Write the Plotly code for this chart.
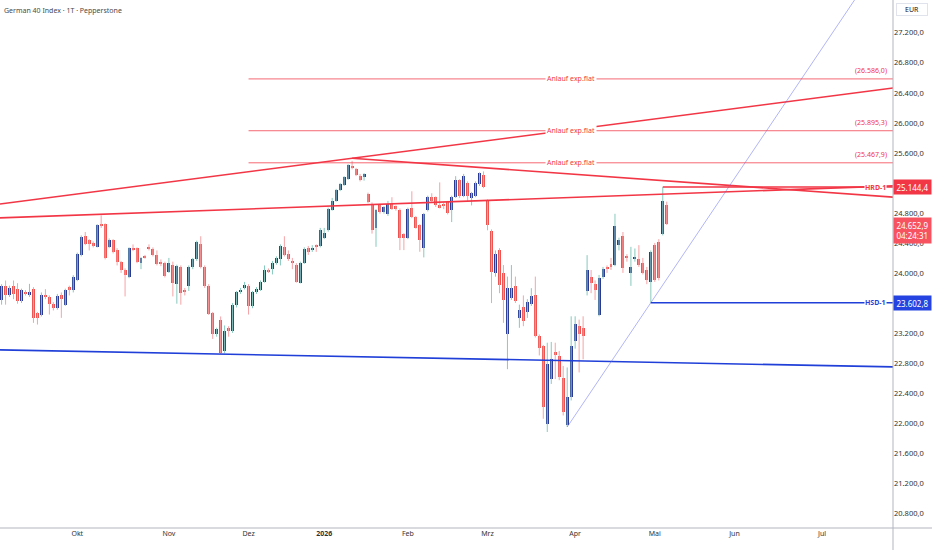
import pandas as pd
import plotly.graph_objects as go

# GER40 daily candles (Pepperstone)
first_day = "2025-09-04"
holidays = ["2025-12-24", "2025-12-25", "2025-12-26", "2025-12-31",
            "2026-01-01", "2026-04-03", "2026-04-06", "2026-05-01"]

opens = [
    23643, 23828, 23709, 23828, 23784, 23621, 23744, 23700, 23784, 23467,
    23445, 23709, 23678, 23590, 23533, 23709, 23577, 23810, 23775, 23907,
    24238, 24489, 24436, 24401, 24348, 24648, 24648, 24348, 24436, 24304,
    24150, 24040, 23951, 24339, 24326, 24128, 24225, 24348, 24313, 24238,
    24150, 24128, 24018, 24106, 23854, 24084, 23775, 23828, 24084, 24180,
    24392, 24084, 23832, 23467, 23180, 23378, 22960, 23268, 23224, 23577,
    23753, 23797, 23828, 23555, 23740, 23775, 23885, 24040, 24048, 24128,
    24180, 24348, 24251, 24163, 24106, 23872, 24136, 24326, 24304, 24361,
    24361, 24471, 24568, 24842, 24965, 25106, 25176, 25251, 25428, 25384,
    25296, 25273, 25053, 24921, 24604, 24899, 24811, 24780, 24921, 24886,
    24842, 24515, 24471, 24868, 24745, 24634, 24326, 24833, 25018, 25009,
    24899, 24921, 24943, 24833, 25018, 25235, 25030, 25200, 25000, 25030,
    25180, 25300, 24965, 24559, 23995, 24304, 23995, 23180, 23665, 23828,
    23400, 23546, 23475, 23590, 23709, 23158, 23026, 21990, 22585, 22946,
    22893, 22594, 21968, 22342, 23092, 23290, 23270, 23761, 23951, 23854,
    23444, 23942, 24083, 24118, 24105, 24370, 24489, 24224, 24004, 24193,
    24180, 24127, 24039, 23885, 24370, 24414, 24515, 24912]
highs = [
    23850, 23899, 23830, 23899, 23863, 23790, 23770, 23854, 23810, 23480,
    23740, 23784, 23700, 23610, 23720, 23740, 23790, 23830, 23970, 24270,
    24500, 24546, 24450, 24420, 24650, 24767, 24660, 24460, 24450, 24330,
    24160, 24060, 24340, 24380, 24340, 24210, 24240, 24380, 24340, 24300,
    24180, 24150, 24200, 24150, 24110, 24100, 23800, 24100, 24200, 24430,
    24489, 24100, 23850, 23480, 23270, 23420, 23300, 23290, 23600, 23760,
    23800, 23880, 23850, 23760, 23810, 23900, 24100, 24060, 24160, 24220,
    24380, 24489, 24300, 24200, 24130, 24150, 24340, 24360, 24370, 24380,
    24600, 24600, 24870, 25000, 25120, 25200, 25290, 25450, 25494, 25400,
    25320, 25330, 25070, 24940, 24850, 24920, 24890, 24960, 25009, 24900,
    24860, 24530, 24870, 25088, 24760, 24650, 24800, 25030, 25062, 25020,
    25207, 24940, 24960, 25030, 25290, 25250, 25320, 25220, 25080, 25220,
    25340, 25353, 24980, 24580, 24300, 24330, 24105, 23951, 24105, 23951,
    23577, 23700, 23650, 23797, 23951, 23180, 23040, 23070, 23080, 23070,
    22960, 22760, 22740, 23422, 23422, 23378, 23422, 24237, 24039, 23900,
    23973, 24080, 24100, 24200, 24788, 24470, 24546, 24250, 24348, 24326,
    24370, 24200, 24080, 24300, 24400, 24450, 25144.4, 24950]
lows = [
    23577, 23577, 23680, 23650, 23590, 23600, 23700, 23680, 23334, 23312,
    23420, 23650, 23445, 23500, 23510, 23401, 23560, 23700, 23740, 23890,
    24220, 24370, 24300, 24340, 24340, 24600, 24180, 24330, 24260, 24100,
    24000, 23687, 23930, 24290, 24130, 24050, 24190, 24300, 24220, 24100,
    24090, 23940, 24000, 23687, 23590, 23577, 23700, 23760, 24050, 24160,
    24060, 23800, 23440, 23120, 23150, 22920, 22930, 23150, 23200, 23540,
    23720, 23780, 23445, 23530, 23720, 23760, 23870, 24000, 23980, 24110,
    24100, 24220, 24160, 24050, 23870, 23860, 24120, 24240, 24280, 24280,
    24340, 24450, 24550, 24830, 24950, 25090, 25160, 25240, 25380, 25290,
    25220, 25230, 24930, 24524, 24348, 24790, 24790, 24760, 24840, 24830,
    24304, 24304, 24450, 24730, 24590, 24282, 24207, 24820, 24950, 24880,
    24860, 24850, 24780, 24678, 25000, 25000, 25010, 24960, 24900, 25010,
    25160, 25130, 24568, 23598, 23950, 23730, 23334, 22717, 23640, 23600,
    23268, 23290, 23400, 23560, 23140, 22900, 22056, 21880, 22520, 22585,
    22570, 22100, 21946, 22300, 22990, 22673, 22849, 23700, 23730, 23640,
    23422, 23920, 24000, 24040, 24090, 24300, 24000, 24150, 23827, 24150,
    24080, 23980, 23850, 23602.8, 23880, 23900, 24500, 24640]
closes = [
    23828, 23709, 23797, 23722, 23621, 23766, 23722, 23744, 23401, 23401,
    23709, 23678, 23590, 23533, 23696, 23656, 23766, 23766, 23951, 24251,
    24480, 24392, 24392, 24357, 24634, 24621, 24194, 24445, 24282, 24150,
    24040, 23973, 24326, 24313, 24150, 24194, 24207, 24313, 24238, 24119,
    24119, 23960, 24136, 23872, 24092, 23731, 23753, 24084, 24180, 24414,
    24084, 23832, 23458, 23189, 23246, 22938, 23224, 23224, 23577, 23740,
    23775, 23841, 23564, 23740, 23784, 23885, 24040, 24017, 24128, 24194,
    24357, 24238, 24185, 24128, 23885, 24136, 24313, 24282, 24339, 24348,
    24568, 24533, 24855, 24965, 25106, 25185, 25273, 25441, 25397, 25309,
    25238, 25318, 24943, 24568, 24833, 24811, 24877, 24921, 24855, 24855,
    24471, 24471, 24855, 24745, 24604, 24445, 24780, 25009, 24965, 24899,
    24877, 24899, 24798, 25018, 25235, 25030, 25290, 25030, 25060, 25200,
    25326, 25150, 24634, 24017, 24259, 23841, 23643, 23797, 23797, 23621,
    23510, 23356, 23607, 23687, 23158, 23003, 22210, 22783, 22849, 22902,
    22607, 22144, 22342, 23026, 23325, 23180, 23160, 24039, 23872, 23766,
    23929, 24048, 24061, 24092, 24621, 24436, 24061, 24193, 24074, 24207,
    24105, 23995, 23907, 24281, 23907, 23929, 24956, 24652.9]

month_starts = ["2025-10", "2025-11", "2025-12", "2026-01", "2026-02",
                "2026-03", "2026-04", "2026-05", "2026-06", "2026-07"]
month_labels = ["Okt", "Nov", "Dez", "<b>2026</b>", "Feb", "Mrz", "Apr", "Mai", "Jun", "Jul"]
price_ticks = list(range(20800, 27201, 400))

# drawings: two (date, price) anchors each, extended across the chart
upper_trend = [("2025-09-04", 24922), ("2026-05-04", 26053)]
lower_trend = [("2025-09-04", 24734), ("2026-05-04", 25046)]
top_trend = [("2026-01-13", 25528), ("2026-05-04", 25238)]
support_trend = [("2025-09-04", 22974), ("2026-05-04", 22808)]
fan_line = [("2026-03-30", 21946), ("2026-04-30", 23602.8)]

anlauf_levels = [26586.0, 25895.3, 25467.9]
anlauf_start = "2025-12-01"
hrd = ("2026-05-06", 25144.4)
hsd = ("2026-04-30", 23602.8)
last_price = 24652.9
countdown = "04:24:31"

RED = "#f23645"
BLUE = "#1f3fd8"
UP = "#2a3a93"
DOWN = "#ef5350"

days = pd.bdate_range(first_day, "2026-08-31")
days = days[~days.isin(pd.to_datetime(holidays))]


def bar(d):
    return int(days.searchsorted(pd.Timestamp(d)))


def de(v):
    return f"{v:,.1f}".replace(",", "X").replace(".", ",").replace("X", ".")


x_lo, x_hi = -0.4, 223.8
y_lo, y_hi = 20600, 27638
xs = list(range(len(opens)))

fig = go.Figure()

# wicks
for up in (True, False):
    wx, wy = [], []
    for i in xs:
        if (closes[i] >= opens[i]) == up:
            wx += [i, i, None]
            wy += [lows[i], highs[i], None]
    fig.add_trace(go.Scatter(x=wx, y=wy, mode="lines", hoverinfo="skip",
                             line=dict(color="#86c9bd" if up else "#f5a3a6", width=1)))

# bodies
for up in (True, False):
    bx = [i for i in xs if (closes[i] >= opens[i]) == up]
    base = [min(opens[i], closes[i]) for i in bx]
    h = [max(abs(closes[i] - opens[i]), 8) for i in bx]
    fig.add_trace(go.Bar(x=bx, y=h, base=base, width=0.75,
                         marker=dict(color=UP if up else DOWN, line=dict(width=0))))


def add_line(anchors, color, width, x_start=None):
    (d0, p0), (d1, p1) = anchors
    b0, b1 = bar(d0), bar(d1)
    k = (p1 - p0) / (b1 - b0)
    xa = x_lo if x_start is None else x_start
    fig.add_shape(type="line", x0=xa, y0=p0 + k * (xa - b0), x1=x_hi, y1=p0 + k * (x_hi - b0),
                  line=dict(color=color, width=width))


add_line(upper_trend, RED, 1.6)
add_line(lower_trend, RED, 1.6)
add_line(top_trend, RED, 1.6, x_start=bar(top_trend[0][0]))
add_line(support_trend, BLUE, 1.6)
add_line(fan_line, "rgba(95,105,235,0.7)", 0.7, x_start=bar(fan_line[0][0]))

for lvl in anlauf_levels:
    fig.add_shape(type="line", x0=bar(anlauf_start), x1=x_hi, y0=lvl, y1=lvl,
                  line=dict(color="rgba(242,54,69,0.75)", width=1))
    fig.add_annotation(x=(bar(anlauf_start) + x_hi) / 2, y=lvl, text="Anlauf exp.flat",
                       showarrow=False, bgcolor="white", borderpad=1,
                       font=dict(size=7, color=RED))
    fig.add_annotation(xref="paper", x=0.996, xanchor="right", y=lvl, yshift=8,
                       text="(" + de(lvl) + ")", showarrow=False,
                       font=dict(size=7, color=RED))

fig.add_shape(type="line", x0=bar(hrd[0]), x1=x_hi, y0=hrd[1], y1=hrd[1],
              line=dict(color=RED, width=1.4))
fig.add_shape(type="line", x0=bar(hsd[0]), x1=x_hi, y0=hsd[1], y1=hsd[1],
              line=dict(color=BLUE, width=1.4))
fig.add_annotation(xref="paper", x=0.993, xanchor="right", y=hrd[1], text="<b>HRD-1</b>",
                   showarrow=False, bgcolor="white", borderpad=0, font=dict(size=7, color=RED))
fig.add_annotation(xref="paper", x=0.993, xanchor="right", y=hsd[1], text="<b>HSD-1</b>",
                   showarrow=False, bgcolor="white", borderpad=0, font=dict(size=7, color=BLUE))

# price scale tags
fig.add_annotation(xref="paper", x=1, xanchor="left", y=hrd[1], text=de(hrd[1]),
                   showarrow=False, bgcolor=RED, width=35, height=12,
                   font=dict(size=8, color="white"))
fig.add_annotation(xref="paper", x=1, xanchor="left", y=last_price, yanchor="top", yshift=7,
                   text=de(last_price) + "<br>" + countdown, showarrow=False,
                   bgcolor="#f7525f", width=35, height=23, font=dict(size=8, color="white"))
fig.add_annotation(xref="paper", x=1, xanchor="left", y=hsd[1], text=de(hsd[1]),
                   showarrow=False, bgcolor="#2443e0", width=35, height=12,
                   font=dict(size=8, color="white"))
fig.add_annotation(xref="paper", yref="paper", x=1, xanchor="left", xshift=3, y=1,
                   yanchor="top", yshift=-3, text="EUR", showarrow=False, width=28,
                   bordercolor="#e0e3eb", borderwidth=1, bgcolor="white",
                   font=dict(size=7, color="#131722"))
fig.add_annotation(xref="paper", yref="paper", x=0, xanchor="left", xshift=2, y=1,
                   yanchor="top", yshift=-4, text="German 40 Index · 1T · Pepperstone",
                   showarrow=False, font=dict(size=7, color="#4a4a4a"))

# frame lines of the price/time scales
fig.add_shape(type="line", xref="paper", yref="paper", x0=1, x1=1, y0=-0.05, y1=1,
              line=dict(color="#b2b5be", width=1))
fig.add_shape(type="line", xref="paper", yref="paper", x0=0, x1=1.05, y0=0, y1=0,
              line=dict(color="#b2b5be", width=1))

fig.update_layout(
    width=932, height=550,
    margin=dict(l=0, r=39, t=0, b=22),
    paper_bgcolor="white", plot_bgcolor="white",
    showlegend=False, barmode="overlay", bargap=0,
    font=dict(family="Noto Sans", color="#333333"),
    xaxis=dict(range=[x_lo, x_hi], showgrid=False, zeroline=False, automargin=False,
               tickvals=[bar(m) for m in month_starts], ticktext=month_labels,
               tickfont=dict(size=7, color="#333333"), ticks=""),
    yaxis=dict(range=[y_lo, y_hi], side="right", showgrid=False, zeroline=False,
               automargin=False, tickvals=price_ticks,
               ticktext=[de(v) for v in price_ticks],
               tickfont=dict(size=7.5, color="#333333"), ticks=""),
)

# the page body has a default 8px margin; drop it so the chart fills the window
fig.write_html("out.html", config={"displayModeBar": False},
               post_script="document.body.style.margin='0';")
